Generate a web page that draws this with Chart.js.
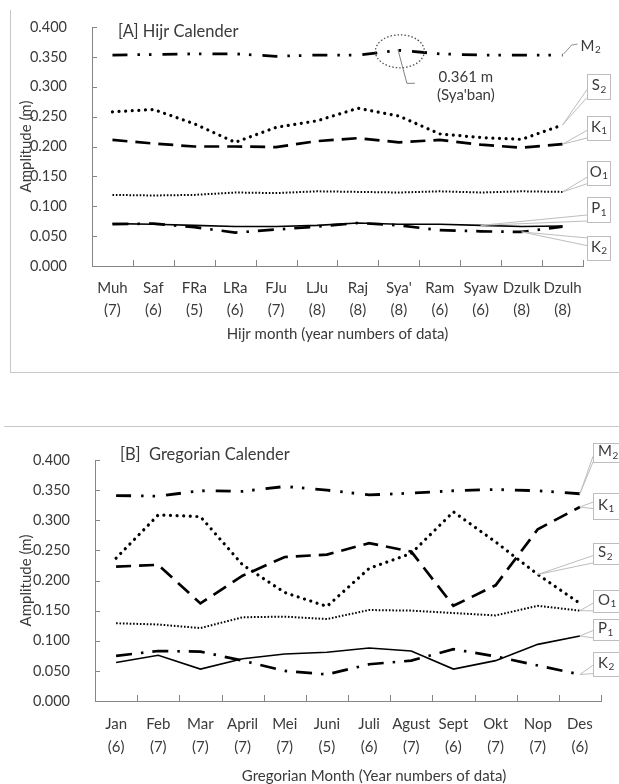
<!DOCTYPE html>
<html><head><meta charset="utf-8">
<script src="https://cdn.jsdelivr.net/npm/chart.js@4"></script>
<style>
html,body{margin:0;padding:0;background:#fff;}
#wrap{position:relative;width:619px;height:784px;overflow:hidden;background:#fff;}
.pane{position:absolute;left:0;width:619px;height:392px;}
#frameA{position:absolute;left:10px;top:10px;width:640px;height:362px;border-left:1.5px solid #c8c8c8;border-bottom:1.5px solid #c8c8c8;}
#frameB{position:absolute;left:4px;top:426px;width:640px;height:0;border-top:1.5px solid #c8c8c8;}
</style></head>
<body>
<div id="wrap">
<div id="frameA"></div><div id="frameB"></div>
<div class="pane" style="top:0"><canvas id="cA" width="619" height="392"></canvas></div>
<div class="pane" style="top:392px"><canvas id="cB" width="619" height="392"></canvas></div>
</div>
<script>
// ---------- data ----------
const hijrMonths = ["Muh","Saf","FRa","LRa","FJu","LJu","Raj","Sya'","Ram","Syaw","Dzulk","Dzulh"];
const hijrYears  = [7,6,5,6,7,8,8,8,6,6,8,8];
const hijrM2 = [0.353,0.354,0.355,0.355,0.351,0.353,0.353,0.361,0.355,0.353,0.353,0.353];
const hijrS2 = [0.258,0.262,0.238,0.207,0.232,0.243,0.264,0.251,0.221,0.215,0.212,0.236];
const hijrK1 = [0.211,0.205,0.200,0.200,0.199,0.209,0.214,0.207,0.211,0.203,0.198,0.204];
const hijrO1 = [0.119,0.118,0.119,0.123,0.122,0.125,0.124,0.123,0.125,0.123,0.125,0.124];
const hijrP1 = [0.071,0.070,0.068,0.066,0.066,0.068,0.072,0.070,0.070,0.068,0.066,0.067];
const hijrK2 = [0.070,0.071,0.065,0.056,0.061,0.066,0.072,0.068,0.060,0.058,0.057,0.066];

const gregMonths = ["Jan","Feb","Mar","April","Mei","Juni","Juli","Agust","Sept","Okt","Nop","Des"];
const gregYears  = [6,7,7,7,7,5,6,7,6,7,7,6];
const gregM2 = [0.341,0.340,0.349,0.348,0.356,0.350,0.342,0.345,0.349,0.351,0.349,0.344];
const gregS2 = [0.237,0.309,0.306,0.226,0.180,0.157,0.220,0.245,0.314,0.264,0.210,0.162];
const gregK1 = [0.223,0.226,0.162,0.208,0.239,0.243,0.262,0.248,0.158,0.192,0.285,0.322];
const gregO1 = [0.129,0.127,0.121,0.139,0.140,0.136,0.151,0.150,0.146,0.142,0.158,0.150];
const gregP1 = [0.064,0.076,0.053,0.070,0.078,0.081,0.088,0.083,0.053,0.067,0.094,0.108];
const gregK2 = [0.075,0.083,0.082,0.067,0.050,0.044,0.061,0.067,0.086,0.074,0.059,0.044];

const yTickValues = [0,0.05,0.1,0.15,0.2,0.25,0.3,0.35,0.4];
const constituents = ["M2","S2","K1","O1","P1","K2"];
const annotValue = "0.361 m";
const annotMonth = "(Sya'ban)";

// ---------- styles ----------
const FONT = 'Lato, "Open Sans", sans-serif';
const TXT = '#3a3a3a';
const AXIS = '#868686';
const CALL = '#bdbdbd';
const STY = {
  M2:{borderWidth:2.8, borderDash:[15,10,2.5,9,2.5,11], borderCapStyle:'butt'},
  S2:{borderWidth:3.2, borderDash:[0.01,6.6], borderCapStyle:'round'},
  K1:{borderWidth:2.7, borderDash:[15,8], borderCapStyle:'butt'},
  O1:{borderWidth:2, borderDash:[1.6,1.8], borderCapStyle:'butt'},
  P1:{borderWidth:1.6, borderDash:[], borderCapStyle:'butt'},
  K2:{borderWidth:2.7, borderDash:[16,9,2.5,9], borderCapStyle:'butt'}
};

function makeDatasets(series){
  return constituents.map((c,i)=>Object.assign({
    label:c, data:series[i], borderColor:'#000', backgroundColor:'#000',
    pointRadius:0, tension:0, fill:false
  }, STY[c]));
}

function subLabel(ctx,x,y,name){
  ctx.save();
  ctx.fillStyle=TXT; ctx.textBaseline='middle'; ctx.textAlign='left';
  ctx.font='15px '+FONT;
  ctx.fillText(name[0],x,y);
  const w=ctx.measureText(name[0]).width;
  ctx.font='10px '+FONT;
  ctx.fillText(name.slice(1),x+w+0.5,y+4);
  ctx.restore();
}
function subWidth(ctx,name){
  ctx.save(); ctx.font='15px '+FONT; const a=ctx.measureText(name[0]).width;
  ctx.font='10px '+FONT; const b=ctx.measureText(name.slice(1)).width; ctx.restore();
  return a+b+0.5;
}

const decor = {
  id:'decor',
  afterDatasetsDraw(chart, args, opts){
    const ctx=chart.ctx, ca=chart.chartArea;
    const xs=chart.scales.x, ys=chart.scales.y;
    ctx.save();
    // inward tick marks
    ctx.strokeStyle=AXIS; ctx.lineWidth=1;
    yTickValues.forEach(v=>{
      const y=Math.round(ys.getPixelForValue(v))+0.5;
      ctx.beginPath(); ctx.moveTo(ca.left,y); ctx.lineTo(ca.left+5,y); ctx.stroke();
    });
    const half=(xs.getPixelForValue(1)-xs.getPixelForValue(0))/2;
    for(let i=0;i<xs.getLabels().length;i++){
      const x=Math.round(xs.getPixelForValue(i)+half)+0.5;
      ctx.beginPath(); ctx.moveTo(x,ca.bottom); ctx.lineTo(x,ca.bottom-6); ctx.stroke();
    }
    // panel title
    ctx.fillStyle=TXT; ctx.font='16.5px '+FONT; ctx.textBaseline='middle'; ctx.textAlign='left';
    ctx.fillText(opts.title, opts.titlePos[0], opts.titlePos[1]);
    // custom x title
    if(opts.xTitle){
      ctx.font='15px '+FONT; ctx.textAlign='center';
      ctx.fillText(opts.xTitle, opts.xTitlePos[0], opts.xTitlePos[1]);
    }
    const pt=(name,idx)=>{
      const di=constituents.indexOf(name);
      const e=chart.getDatasetMeta(di).data[idx];
      return {x:e.x,y:e.y};
    };
    // callouts
    (opts.callouts||[]).forEach(c=>{
      const t=pt(c.ds,c.idx);
      const [bx,by,bw,bh]=c.box;
      const a1=[bx,by+bh*c.att[0]], a2=[bx,by+bh*c.att[1]];
      ctx.beginPath(); ctx.moveTo(a1[0],a1[1]); ctx.lineTo(t.x,t.y); ctx.lineTo(a2[0],a2[1]); ctx.closePath();
      ctx.fillStyle='#fff'; ctx.fill();
      ctx.beginPath(); ctx.moveTo(a1[0],a1[1]); ctx.lineTo(t.x,t.y); ctx.lineTo(a2[0],a2[1]);
      ctx.strokeStyle=CALL; ctx.lineWidth=1; ctx.stroke();
      ctx.fillStyle='#fff'; ctx.fillRect(bx+0.5,by+0.5,bw,bh);
      ctx.strokeStyle=CALL; ctx.strokeRect(bx+0.5,by+0.5,bw,bh);
      const tw=subWidth(ctx,c.ds);
      const tx=c.leftText? bx+5 : bx+(bw-tw)/2+0.5;
      subLabel(ctx,tx,by+bh/2-1,c.ds);
    });
    // plain leader label (M2 in panel A)
    if(opts.leader){
      const L=opts.leader, t=pt(L.ds,L.idx);
      ctx.strokeStyle='#909090'; ctx.lineWidth=1;
      ctx.beginPath(); ctx.moveTo(t.x+1,t.y-1); ctx.lineTo(t.x+9,t.y-10); ctx.lineTo(t.x+15,t.y-11); ctx.stroke();
      subLabel(ctx,t.x+18,t.y-9,L.ds);
    }
    // ellipse annotation
    if(opts.ellipse){
      const E=opts.ellipse, t=pt(E.ds,E.idx);
      ctx.strokeStyle='#505050'; ctx.lineWidth=1.3; ctx.setLineDash([1.5,2]);
      ctx.beginPath(); ctx.ellipse(t.x+1,t.y+1,24.5,16.5,0,0,Math.PI*2); ctx.stroke();
      ctx.setLineDash([]);
      ctx.strokeStyle='#808080'; ctx.lineWidth=1;
      ctx.beginPath(); ctx.moveTo(t.x-1,t.y-1); ctx.lineTo(t.x+8,t.y+33); ctx.lineTo(t.x+16,t.y+33); ctx.stroke();
      ctx.fillStyle=TXT; ctx.font='15px '+FONT; ctx.textAlign='center'; ctx.textBaseline='middle';
      ctx.fillText(annotValue, t.x+67, t.y+27);
      ctx.fillText(annotMonth, t.x+67, t.y+45);
    }
    ctx.restore();
  }
};

function build(id, months, years, series, cfg){
  return new Chart(document.getElementById(id), {
    type:'line',
    data:{labels:months.map((m,i)=>[m,'('+years[i]+')']), datasets:makeDatasets(series)},
    options:{
      responsive:false, animation:false, devicePixelRatio:1,
      layout:{padding:cfg.padding},
      plugins:{legend:{display:false}, tooltip:{enabled:false}, decor:cfg.decor},
      scales:{
        x:{type:'category', offset:true,
          grid:{display:false, offset:true},
          border:{display:true,color:AXIS,width:1},
          ticks:{color:TXT, font:{family:FONT,size:15,lineHeight:cfg.lh}, padding:cfg.xPad, maxRotation:0, autoSkip:false},
          title:{display:!!cfg.xTitle, text:cfg.xTitle||'', color:TXT, font:{family:FONT,size:15,lineHeight:1.2}, padding:{top:0,bottom:cfg.xTitlePad||0}},
          afterFit:s=>{s.height=cfg.xH;}
        },
        y:{min:0,max:0.4,
          afterBuildTicks:s=>{s.ticks=yTickValues.map(v=>({value:v}));},
          grid:{display:false},
          border:{display:true,color:AXIS,width:1},
          ticks:{color:TXT, font:{family:FONT,size:14.5}, padding:17, callback:v=>Number(v).toFixed(3)},
          title:{display:true, text:'Amplitude (m)', color:TXT, font:{family:FONT,size:15,lineHeight:1.2}, padding:{top:17,bottom:0}},
          afterFit:s=>{s.width=cfg.yW;}
        }
      }
    },
    plugins:[decor]
  });
}

build('cA', hijrMonths, hijrYears, [hijrM2,hijrS2,hijrK1,hijrO1,hijrP1,hijrK2], {
  padding:{top:27,right:36,left:0,bottom:0}, yW:92, xH:126, xPad:4, lh:1.42,
  xTitle:'Hijr month (year numbers of data)', xTitlePad:49,
  decor:{
    title:'[A] Hijr Calender', titlePos:[118,31.5],
    leader:{ds:'M2',idx:11},
    ellipse:{ds:'M2',idx:7},
    callouts:[
      {ds:'S2',idx:11,box:[587,74,23,25],att:[0.62,0.94]},
      {ds:'K1',idx:11,box:[587,116,23,24],att:[0.6,0.92]},
      {ds:'O1',idx:11,box:[587,161,23,24],att:[0.68,0.95]},
      {ds:'P1',idx:9,box:[587,197,23,25],att:[0.72,0.96]},
      {ds:'K2',idx:10,box:[587,236,23,24],att:[0.08,0.4]}
    ]
  }
});

build('cB', gregMonths, gregYears, [gregM2,gregS2,gregK1,gregO1,gregP1,gregK2], {
  padding:{top:68,right:18,left:0,bottom:0}, yW:95, xH:83, xPad:4.5, lh:1.48,
  decor:{
    title:'[B]  Gregorian Calender', titlePos:[120,63],
    xTitle:'Gregorian Month (Year numbers of data)', xTitlePos:[374,384],
    callouts:[
      {ds:'M2',idx:11,box:[593,51,30,19],att:[0.7,1.0],leftText:true},
      {ds:'K1',idx:11,box:[593,101,30,26],att:[0.35,0.6],leftText:true},
      {ds:'S2',idx:10,box:[593,151,30,21],att:[0.6,0.95],leftText:true},
      {ds:'O1',idx:11,box:[593,198,30,22],att:[0.6,0.95],leftText:true},
      {ds:'P1',idx:11,box:[593,227,30,21],att:[0.55,0.9],leftText:true},
      {ds:'K2',idx:11,box:[593,260,30,24],att:[0.55,0.9],leftText:true}
    ]
  }
});
</script>
</body></html>
